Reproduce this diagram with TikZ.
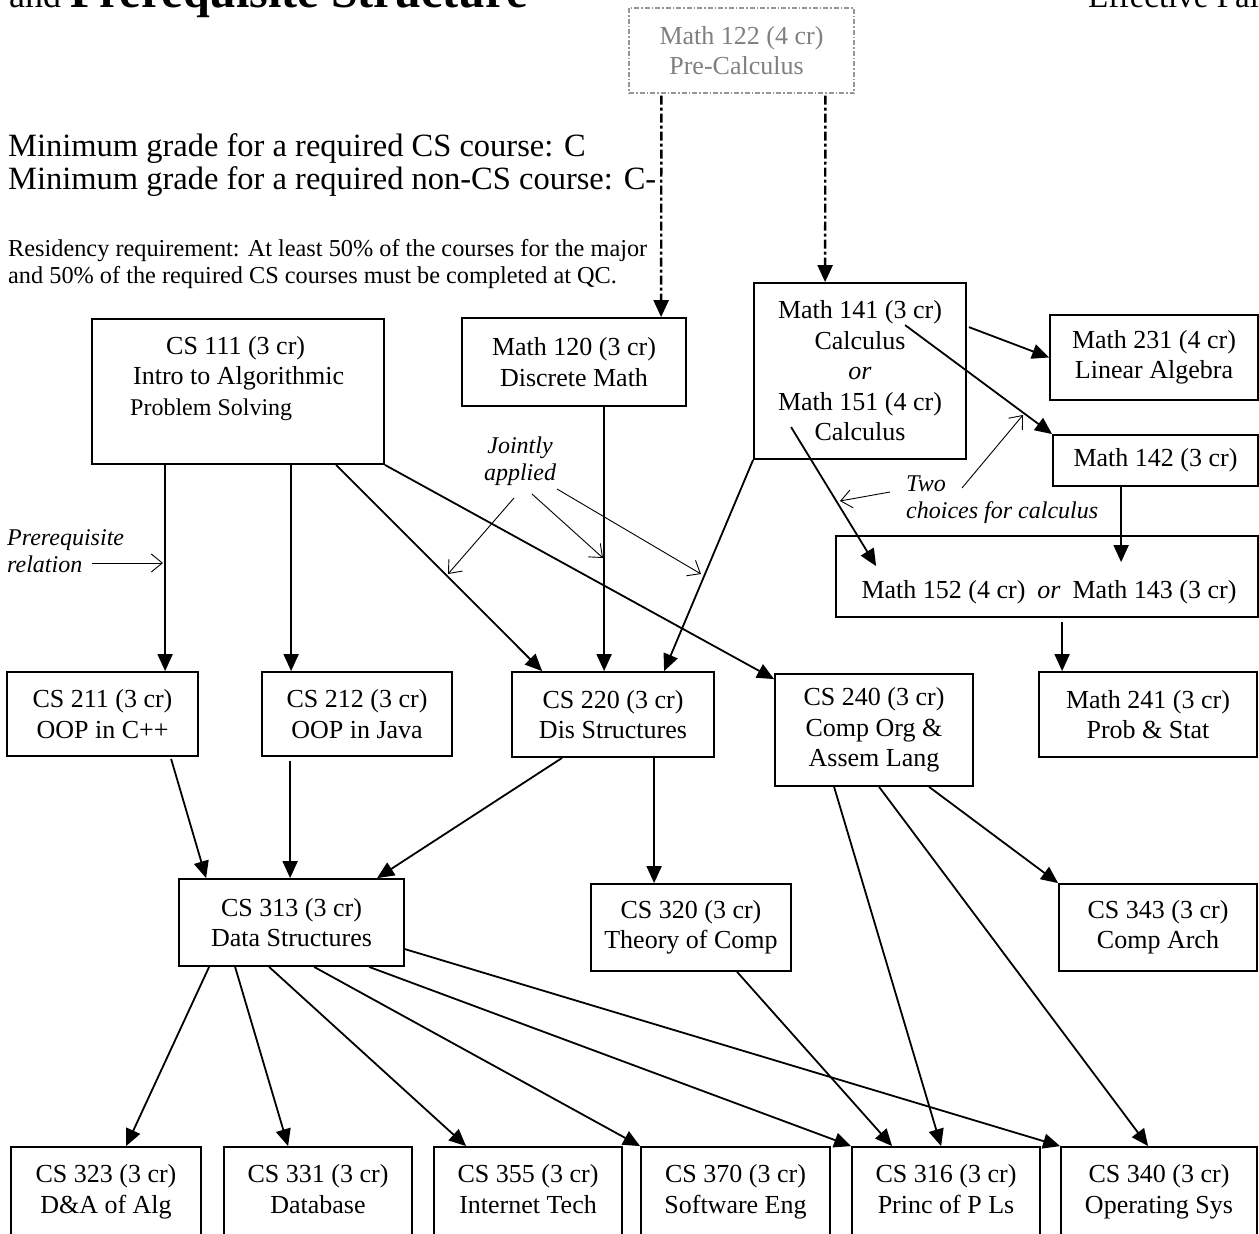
\documentclass[tikz,border=0pt]{standalone}
\usepackage{fontspec}
\setmainfont{Liberation Serif}
\usetikzlibrary{arrows.meta,calc}
\definecolor{pcgray}{RGB}{128,128,128}
\definecolor{pcline}{RGB}{150,150,150}
\begin{document}
\begin{tikzpicture}[x=1pt,y=-1pt,
  box/.style={draw,line width=1.8pt,inner sep=0pt,align=center,font=\fontsize{26}{30.5}\selectfont},
  txt/.style={inner sep=0pt,align=center,font=\fontsize{26}{30.5}\selectfont},
  ital/.style={inner sep=0pt,font=\fontsize{24}{27}\selectfont\itshape},
  pre/.style={line width=1.8pt,-{Triangle[length=17pt,width=15pt]}},
  note/.style={line width=0.9pt,-{Straight Barb[length=11pt,width=18pt]}},
  ddot/.style={line width=2.4pt,dash pattern=on 9pt off 3pt on 3pt off 3pt,-{Triangle[length=17pt,width=15pt]}},
]
\path[use as bounding box] (0,0) rectangle (1259,1234);

% headings
\node[anchor=base west,inner sep=0pt] (title) at (9,8) {\fontsize{36}{40}\selectfont and \fontsize{48}{52}\selectfont\bfseries Prerequisite Structure};
\node[anchor=base west,inner sep=0pt,font=\fontsize{33}{37}\selectfont] (eff) at (1088,8) {Effective Fall};

\node[anchor=base west,inner sep=0pt,font=\fontsize{32.5}{34}\selectfont] (min1) at (8,156) {Minimum grade for a required CS course: C};
\node[anchor=base west,inner sep=0pt,font=\fontsize{32.5}{34}\selectfont] (min2) at (8,189) {Minimum grade for a required non-CS course: C-};
\node[anchor=base west,inner sep=0pt,font=\fontsize{24.3}{27}\selectfont] (res1) at (8,256) {Residency requirement: At least 50\% of the courses for the major};
\node[anchor=base west,inner sep=0pt,font=\fontsize{24.3}{27}\selectfont] (res2) at (8,283) {and 50\% of the required CS courses must be completed at QC.};

% boxes
\node[box,draw=pcline,line width=1.2pt,dash pattern=on 5pt off 2pt on 1.5pt off 2pt,text=pcgray,minimum width=225pt,minimum height=85pt] (math122) at (741.5,50.5) {Math 122 (4 cr)\\Pre-Calculus\hspace*{10pt}};
\node[box,minimum width=292pt,minimum height=145pt] (cs111) at (238,391.5) {};
\node[txt,align=left,anchor=north west] (cs111t) at (130,336) {\hspace*{36pt}CS 111 (3 cr)\\\hspace*{3pt}Intro to Algorithmic\\{\fontsize{24}{30}\selectfont Problem Solving}};
\node[box,minimum width=224pt,minimum height=88pt] (math120) at (574,362) {Math 120 (3 cr)\\Discrete Math};
\node[box,minimum width=212pt,minimum height=176pt] (math141) at (860,371) {Math 141 (3 cr)\\Calculus\\\textit{or}\\Math 151 (4 cr)\\Calculus};
\node[box,minimum width=208pt,minimum height=85pt] (math231) at (1154,357.5) {Math 231 (4 cr)\\Linear Algebra};
\node[box,minimum width=205pt,minimum height=51pt] (math142) at (1155.5,460.5) {\strut Math 142 (3 cr)};
\node[box,minimum width=422pt,minimum height=81pt] (math152) at (1047,576.5) {};
\node[txt] (math152t) at (1049,592) {Math 152 (4 cr)\hspace{12pt}\textit{or}\hspace{12pt}Math 143 (3 cr)};
\node[box,minimum width=218pt,minimum height=85pt] (math241) at (1148,714.5) {Math 241 (3 cr)\\Prob \& Stat};

\node[box,minimum width=191pt,minimum height=84pt] (cs211) at (102.5,714) {CS 211 (3 cr)\\OOP in C++};
\node[box,minimum width=190pt,minimum height=84pt] (cs212) at (357,714) {CS 212 (3 cr)\\OOP in Java};
\node[box,minimum width=202pt,minimum height=85pt] (cs220) at (613,714.5) {CS 220 (3 cr)\\Dis Structures};
\node[box,minimum width=198pt,minimum height=112pt] (cs240) at (874,730) {\strut CS 240 (3 cr)\\\strut Comp Org \&\\\strut Assem Lang};
\node[box,minimum width=225pt,minimum height=87pt] (cs313) at (291.5,922.5) {CS 313 (3 cr)\\Data Structures};
\node[box,minimum width=200pt,minimum height=87pt] (cs320) at (691,927.5) {CS 320 (3 cr)\\Theory of Comp};
\node[box,minimum width=198pt,minimum height=87pt] (cs343) at (1158,927.5) {\strut CS 343 (3 cr)\\\strut Comp Arch};

\node[box,minimum width=190pt,minimum height=100pt] (cs323) at (106,1197) {};
\node[box,minimum width=188pt,minimum height=100pt] (cs331) at (318,1197) {};
\node[box,minimum width=188pt,minimum height=100pt] (cs355) at (528,1197) {};
\node[box,minimum width=189pt,minimum height=100pt] (cs370) at (735.5,1197) {};
\node[box,minimum width=188pt,minimum height=100pt] (cs316) at (946,1197) {};
\node[box,minimum width=196pt,minimum height=100pt] (cs340) at (1159,1197) {};
\node[txt] (cs323t) at (106,1192) {\strut CS 323 (3 cr)\\\strut D\&A of Alg};
\node[txt] (cs331t) at (318,1192) {\strut CS 331 (3 cr)\\\strut Database};
\node[txt] (cs355t) at (528,1192) {\strut CS 355 (3 cr)\\\strut Internet Tech};
\node[txt] (cs370t) at (735.5,1192) {\strut CS 370 (3 cr)\\\strut Software Eng};
\node[txt] (cs316t) at (946,1192) {\strut CS 316 (3 cr)\\\strut Princ of P Ls};
\node[txt] (cs340t) at (1159,1192) {\strut CS 340 (3 cr)\\\strut Operating Sys};

% annotations
\node[ital,align=left,anchor=west] (prereq) at (7,551) {Prerequisite\\relation};
\node[ital,align=center] (joint) at (520,461) {Jointly\\applied};
\node[ital,align=left,anchor=west] (two) at (906,500) {Two\\choices for calculus};
\coordinate (preA) at (92,563);  \coordinate (preB) at (163,563);
\coordinate (jA1) at (514,498);  \coordinate (jB1) at (448,574);
\coordinate (jA2) at (532,494);  \coordinate (jB2) at (603,558);
\coordinate (jA3) at (557,489);  \coordinate (jB3) at (701,574);
\coordinate (tA1) at (890,492);  \coordinate (tB1) at (840,501);
\coordinate (tA2) at (962,488);  \coordinate (tB2) at (1023,415);
\draw[note] (preA) -- (preB);
\draw[note] (jA1) -- (jB1);
\draw[note] (jA2) -- (jB2);
\draw[note] (jA3) -- (jB3);
\draw[note] (tA1) -- (tB1);
\draw[note] (tA2) -- (tB2);

% dash-dot prerequisite from Math 122
\draw[ddot] ($(math122.south west)+(33,2)$) -- ($(math120.north west)+(200,0)$);
\draw[ddot] ($(math122.south west)+(197,2)$) -- ($(math141.north west)+(72,0)$);

% prerequisite arrows
\draw[pre] ($(cs111.south west)+(74,0)$) -- ($(cs211.north west)+(159,0)$);
\draw[pre] ($(cs111.south west)+(200,0)$) -- ($(cs212.north west)+(30,0)$);
\draw[pre] ($(cs111.south west)+(245,0)$) -- ($(cs220.north west)+(31,0)$);
\draw[pre] (cs111.south east) -- ($(cs240.north west)+(0,6)$);
\draw[pre] ($(math120.south west)+(143,0)$) -- ($(cs220.north west)+(93,0)$);
\draw[pre] (math141.south west) -- ($(cs220.north west)+(153,0)$);
\draw[pre] ($(math141.north east)+(2,45)$) -- (math231.west);
\draw[pre] ($(math141.north west)+(152,43)$) -- (math142.north west);
\draw[pre] ($(math141.north west)+(38,145)$) -- ($(math152.north west)+(41,31)$);
\draw[pre] ($(math142.south west)+(69,0)$) -- ($(math152.north west)+(286,27)$);
\draw[pre] ($(math152.south west)+(227,4)$) -- ($(math241.north west)+(24,0)$);
\draw[pre] ($(cs211.south west)+(165,2)$) -- ($(cs313.north west)+(28,0)$);
\draw[pre] ($(cs212.south west)+(29,4)$) -- ($(cs313.north west)+(112,0)$);
\draw[pre] ($(cs220.south west)+(51,0)$) -- ($(cs313.north west)+(199,0)$);
\draw[pre] ($(cs220.south west)+(143,0)$) -- ($(cs320.north west)+(64,0)$);
\draw[pre] ($(cs240.south west)+(155,0)$) -- (cs343.north west);
\draw[pre] ($(cs240.south west)+(60,0)$) -- ($(cs316.north west)+(90,0)$);
\draw[pre] ($(cs240.south west)+(105,0)$) -- ($(cs340.north west)+(88,0)$);
\draw[pre] ($(cs320.south west)+(147,0)$) -- ($(cs316.north west)+(41,0)$);
\draw[pre] ($(cs313.south west)+(31,0)$) -- ($(cs323.north west)+(116,0)$);
\draw[pre] ($(cs313.south west)+(57,0)$) -- ($(cs331.north west)+(65,0)$);
\draw[pre] ($(cs313.south west)+(91,0)$) -- ($(cs355.north west)+(33,0)$);
\draw[pre] ($(cs313.south west)+(136,0)$) -- (cs370.north west);
\draw[pre] ($(cs313.south west)+(191,0)$) -- (cs316.north west);
\draw[pre] ($(cs313.north east)+(0,71)$) -- (cs340.north west);
\end{tikzpicture}
\end{document}
